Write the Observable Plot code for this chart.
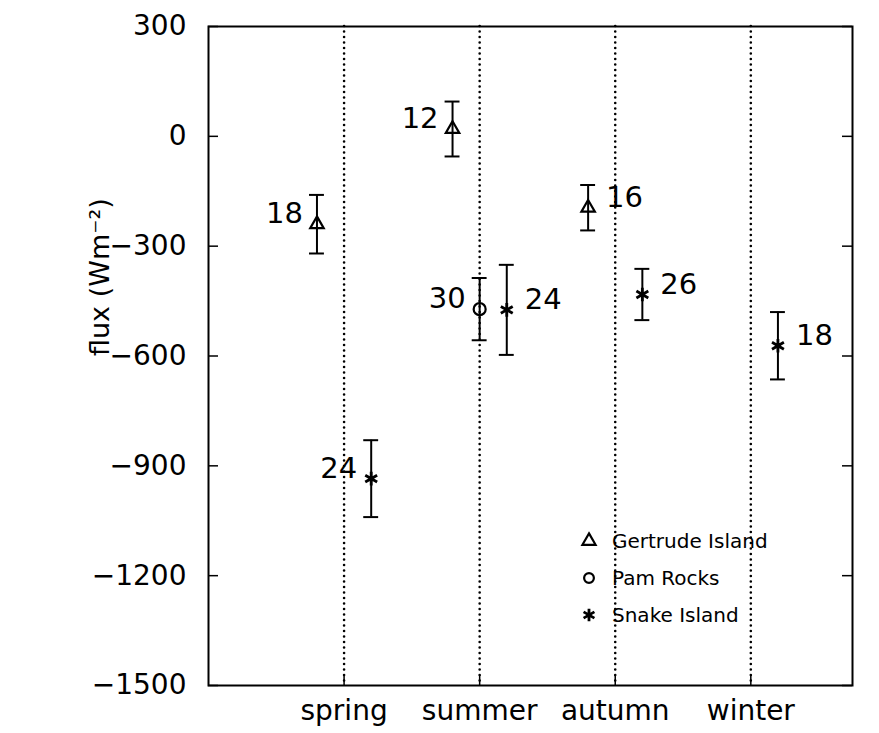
<!DOCTYPE html>
<html>
<head>
<meta charset="utf-8">
<script src="https://cdn.jsdelivr.net/npm/d3@7"></script>
<script src="https://cdn.jsdelivr.net/npm/@observablehq/plot@0.6"></script>
<style>
  html, body { margin: 0; padding: 0; background: #fff; }
  #wrap { position: relative; width: 879px; height: 733px; font-family: "DejaVu Sans", sans-serif; }
  #legend { position: absolute; left: 578px; top: 522px; font-size: 20px; color: #000; }
  #legend .row { display: flex; align-items: center; height: 37px; }
  #legend svg { width: 22px; height: 22px; margin-right: 12px; overflow: visible; }
</style>
</head>
<body>
<div id="wrap"><div id="chart"></div><div id="legend"></div></div>
<script>
// ---- data ----
const seasons = ["spring", "summer", "autumn", "winter"];
const sites = ["Gertrude Island", "Pam Rocks", "Snake Island"];
const yTicks = [-1500, -1200, -900, -600, -300, 0, 300];

// mean flux, half-width of error bar, sample count (null = no data)
const gertrudeMean = [-240, 20, -195, null];
const gertrudeErr  = [80, 75, 62, null];
const gertrudeN    = [18, 12, 16, null];

const pamMean = [null, -472, null, null];
const pamErr  = [null, 85, null, null];
const pamN    = [null, 30, null, null];

const snakeMean = [-935, -474, -432, -572];
const snakeErr  = [105, 123, 70, 92];
const snakeN    = [24, 24, 26, 18];

// ---- build table ----
const rows = [];
function addSite(site, means, errs, ns) {
  seasons.forEach((s, i) => {
    if (means[i] == null) return;
    rows.push({site, season: s, si: i + 1, mean: means[i], lo: means[i] - errs[i], hi: means[i] + errs[i], n: ns[i]});
  });
}
addSite(sites[0], gertrudeMean, gertrudeErr, gertrudeN);
addSite(sites[1], pamMean, pamErr, pamN);
addSite(sites[2], snakeMean, snakeErr, snakeN);

// layout (dodge per site, label side)
const dodge = {"Gertrude Island": -0.2, "Pam Rocks": 0, "Snake Island": 0.2};
const leftLabels = new Set(["Gertrude Island|spring", "Gertrude Island|summer", "Snake Island|spring", "Pam Rocks|summer"]);
const xOf = d => d.si + dodge[d.site];
const isLeft = d => leftLabels.has(d.site + "|" + d.season);
const symbolOf = {"Gertrude Island": "triangle", "Pam Rocks": "circle", "Snake Island": "asterisk"};
const sizeOf = {"Gertrude Island": 5, "Pam Rocks": 6, "Snake Island": 6.5};
const capHalf = 0.055;
const fmt = d => (d < 0 ? "\u2212" : "") + Math.abs(d);

const W = 879, H = 733, mL = 208, mR = 27, mT = 26, mB = 48;
const innerW = W - mL - mR, innerH = H - mT - mB;
const seasonIdx = seasons.map((s, i) => i + 1);

const dotMarks = sites.map(s => Plot.dot(rows.filter(d => d.site === s), {
  x: xOf, y: "mean", symbol: () => symbolOf[s], r: sizeOf[s], stroke: "#000", fill: "none", strokeWidth: s === "Snake Island" ? 2.8 : 2.2
}));

const chart = Plot.plot({
  width: W, height: H,
  marginLeft: mL, marginRight: mR, marginTop: mT, marginBottom: mB,
  style: {fontFamily: "DejaVu Sans, sans-serif", fontSize: "28px", color: "#000", background: "#fff", overflow: "visible"},
  x: {type: "linear", domain: [0, 4.75]},
  y: {domain: [-1500, 300]},
  symbol: {type: "identity"},
  marks: [
    // dotted season lines
    Plot.ruleX(seasonIdx, {stroke: "#000", strokeWidth: 2.6, strokeDasharray: "0,5.5", strokeLinecap: "round"}),
    // frame
    Plot.frame({stroke: "#000", strokeWidth: 2}),
    // inward ticks
    Plot.ruleY(yTicks, {insetRight: innerW - 10, stroke: "#000", strokeWidth: 1.5}),
    Plot.ruleY(yTicks, {insetLeft: innerW - 10, stroke: "#000", strokeWidth: 1.5}),
    Plot.ruleX(seasonIdx, {insetTop: innerH - 10, stroke: "#000", strokeWidth: 1.5}),
    // axes labels
    Plot.axisY(yTicks, {tickSize: 0, tickPadding: 22, label: null, fontSize: 28, tickFormat: fmt}),
    Plot.axisX(seasonIdx, {tickSize: 0, tickPadding: 15, label: null, fontSize: 28, tickFormat: i => seasons[i - 1]}),
    Plot.text(["flux (Wm\u207B\u00B2)"], {frameAnchor: "left", rotate: -90, dx: -108, fontSize: 27}),
    // error bars
    Plot.ruleX(rows, {x: xOf, y1: "lo", y2: "hi", stroke: "#000", strokeWidth: 2}),
    Plot.ruleY(rows, {y: "lo", x1: d => xOf(d) - capHalf, x2: d => xOf(d) + capHalf, stroke: "#000", strokeWidth: 2}),
    Plot.ruleY(rows, {y: "hi", x1: d => xOf(d) - capHalf, x2: d => xOf(d) + capHalf, stroke: "#000", strokeWidth: 2}),
    // markers
    ...dotMarks,
    // count labels
    Plot.text(rows.filter(isLeft), {x: xOf, y: "mean", text: "n", textAnchor: "end", dx: -14, dy: -10, fontSize: 29}),
    Plot.text(rows.filter(d => !isLeft(d)), {x: xOf, y: "mean", text: "n", textAnchor: "start", dx: 18, dy: -10, fontSize: 29})
  ]
});
document.getElementById("chart").appendChild(chart);

// legend
const legend = d3.select("#legend");
const d3sym = {triangle: d3.symbolTriangle, circle: d3.symbolCircle, asterisk: d3.symbolAsterisk};
sites.forEach(s => {
  const row = legend.append("div").attr("class", "row");
  const svg = row.append("svg").attr("viewBox", "-11 -11 22 22");
  svg.append("path")
    .attr("d", d3.symbol(d3sym[symbolOf[s]], s === "Snake Island" ? 110 : 75)())
    .attr("fill", "none").attr("stroke", "#000").attr("stroke-width", s === "Snake Island" ? 2.8 : 2.2);
  row.append("span").text(s);
});
</script>
</body>
</html>
